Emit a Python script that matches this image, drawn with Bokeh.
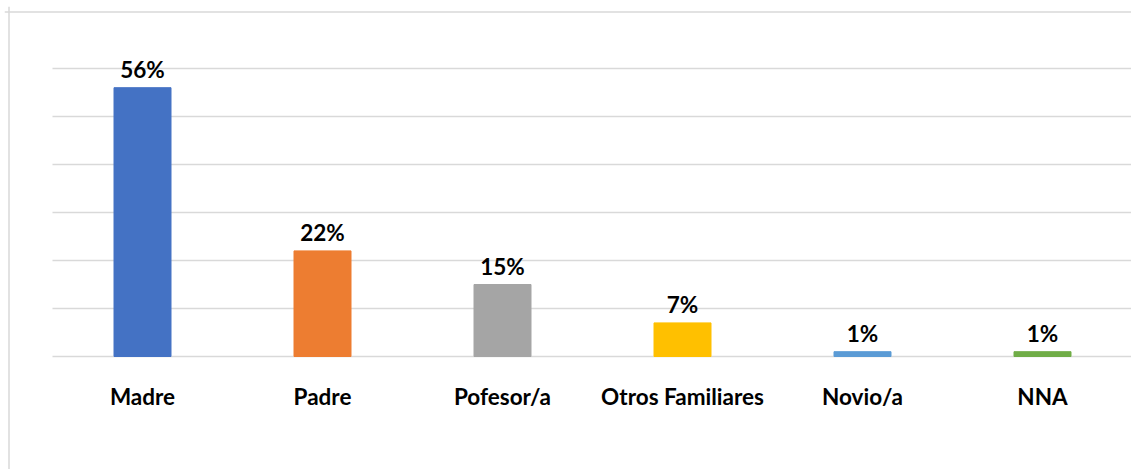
from bokeh.plotting import figure
from bokeh.models import ColumnDataSource, Range1d, Span
from bokeh.core.properties import value
from bokeh.embed import file_html
from bokeh.resources import INLINE

categories = ["Madre", "Padre", "Pofesor/a", "Otros Familiares", "Novio/a", "NNA"]
values = [56, 22, 15, 7, 1, 1]
labels = ["56%", "22%", "15%", "7%", "1%", "1%"]
colors = ["#4472C4", "#ED7D31", "#A5A5A5", "#FFC000", "#5B9BD5", "#70AD47"]
grid_ticks = [0, 10, 20, 30, 40, 50, 60]

W, H = 1131, 469
LEFT, TOP = 4, 6
px_per_cat = 180.0
px_per_unit = 4.8
frame_w = W - LEFT
frame_h = H - TOP
x_start = (LEFT - 142) / px_per_cat
y_start = -(H - 356) / px_per_unit
x_end = x_start + frame_w / px_per_cat
y_end = y_start + frame_h / px_per_unit

p = figure(width=W, height=H, output_backend="svg", toolbar_location=None,
           x_range=Range1d(x_start, x_end),
           y_range=Range1d(y_start, y_end),
           x_axis_location=None, y_axis_location=None,
           min_border_left=LEFT, min_border_top=TOP, min_border_right=0, min_border_bottom=0)
p.grid.visible = False
p.outline_line_color = None
p.background_fill_color = "white"
p.border_fill_color = "white"

# chart-area border (left and top edges visible in the reference)
p.add_layout(Span(location=(8.5 - 142) / px_per_cat, dimension="height",
                  line_color="#d9d9d9", line_width=1.5))
p.add_layout(Span(location=(356 - 11.5) / px_per_unit, dimension="width",
                  line_color="#d9d9d9", line_width=1.5))

xs = list(range(len(categories)))
src = ColumnDataSource(dict(x=xs, top=values, color=colors, cat=categories, lab=labels))

# gridlines
p.segment(x0=[-0.5] * len(grid_ticks), x1=[x_end] * len(grid_ticks),
          y0=grid_ticks, y1=grid_ticks, line_color="#d9d9d9", line_width=1.3)

p.vbar(x="x", top="top", bottom=0, width=57 / px_per_cat, color="color", source=src)

p.text(x="x", y="top", text="lab", source=src, text_align="center", text_baseline="alphabetic",
       y_offset=-18, text_font=value("Lato"), text_font_style="bold", text_font_size="22.5px",
       text_color="#000000")
p.text(x="x", y=0, text="cat", source=src, text_align="center", text_baseline="alphabetic",
       y_offset=40, text_font=value("Lato"), text_font_style="bold", text_font_size="22.5px",
       text_color="#000000")

open("out.html", "w").write(file_html(p, INLINE))
